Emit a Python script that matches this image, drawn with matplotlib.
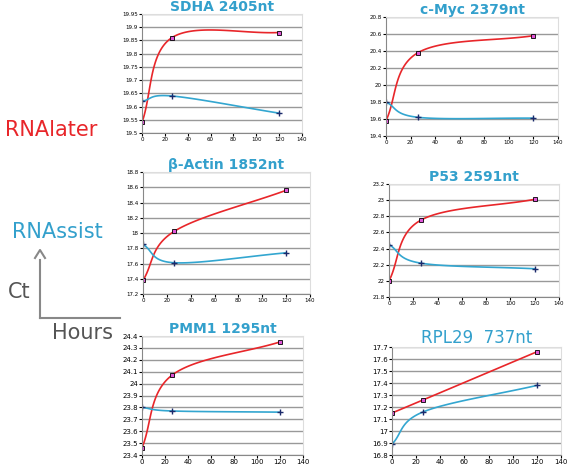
import numpy as np
import matplotlib.pyplot as plt
from matplotlib.ticker import FuncFormatter

hours = [0, 26, 120]

titles = ['SDHA 2405nt', 'c-Myc 2379nt', 'β-Actin 1852nt', 'P53 2591nt', 'PMM1 1295nt', 'RPL29  737nt']
rnalater = [[19.54, 19.86, 19.88], [19.58, 20.38, 20.58], [17.38, 18.02, 18.56],
            [22.0, 22.75, 23.01], [23.46, 24.07, 24.35], [17.15, 17.26, 17.66]]
rnassist = [[19.62, 19.64, 19.575], [19.80, 19.62, 19.61], [17.85, 17.61, 17.74],
            [22.45, 22.22, 22.15], [23.80, 23.77, 23.76], [16.89, 17.16, 17.38]]
ylims = [(19.5, 19.95, 0.05), (19.4, 20.8, 0.2), (17.2, 18.8, 0.2),
         (21.8, 23.2, 0.2), (23.4, 24.4, 0.1), (16.8, 17.7, 0.1)]

# axes boxes in pixels: left, right, top, bottom
boxes = [(142, 302, 14, 133), (386, 558, 17, 136), (143, 310, 172, 294),
         (389, 559, 184, 297), (142, 303, 336, 455), (392, 561, 347, 455)]
W, H = 575, 473


def smooth(x, y, n=60):
    # catmull-rom style curve through the points, like Excel's smoothed line
    x = np.asarray(x, float); y = np.asarray(y, float)
    px = np.concatenate([[2 * x[0] - x[1]], x, [2 * x[-1] - x[-2]]])
    py = np.concatenate([[2 * y[0] - y[1]], y, [2 * y[-1] - y[-2]]])
    xs, ys = [], []
    t = np.linspace(0, 1, n)
    for i in range(1, len(px) - 2):
        for p, out in ((px, xs), (py, ys)):
            p0, p1, p2, p3 = p[i - 1:i + 3]
            m1 = (p2 - p0) / 6; m2 = (p3 - p1) / 6
            out.append((1 - t) ** 3 * p1 + 3 * (1 - t) ** 2 * t * (p1 + m1)
                       + 3 * (1 - t) * t ** 2 * (p2 - m2) + t ** 3 * p2)
    return np.concatenate(xs), np.concatenate(ys)


fmt = FuncFormatter(lambda v, p: '%g' % round(v, 2))

fig = plt.figure(figsize=(W / 100, H / 100), dpi=100)
for i in range(6):
    l, r, t, b = boxes[i]
    ax = fig.add_axes([l / W, 1 - b / H, (r - l) / W, (b - t) / H])
    lo, hi, st = ylims[i]
    ax.set_ylim(lo, hi)
    ax.set_xlim(0, 140)
    ax.set_yticks(np.arange(lo, hi + st / 2, st))
    ax.set_xticks(range(0, 141, 20))
    ax.yaxis.set_major_formatter(fmt)
    ax.yaxis.grid(True, color='#999999', lw=1)
    ax.set_axisbelow(True)
    for s in ['top', 'right']:
        ax.spines[s].set_color('#dddddd')
    for s in ['left', 'bottom']:
        ax.spines[s].set_color('#888888')
    ax.tick_params(labelsize=4, length=2, pad=1)
    if i >= 4:
        ax.tick_params(labelsize=5)
    sx, sy = smooth(hours, rnalater[i])
    ax.plot(sx, sy, color='#e8262a', lw=1.2)
    ax.plot(hours, rnalater[i], 's', ms=3.5, color='#e055d8', mec='black', mew=0.6)
    bx, by = smooth(hours, rnassist[i])
    ax.plot(bx, by, color='#33a6d0', lw=1.2)
    ax.plot(hours, rnassist[i], '+', ms=4, color='#1b2a6b', mew=1)
    ax.set_title(titles[i], color='#33a0cc', fontsize=10 if i < 5 else 12,
                 fontweight='bold' if i < 5 else 'normal', pad=2)

fig.text(5 / W, 1 - 130 / H, 'RNAlater', color='#e8262a', fontsize=15, va='center')
fig.text(12 / W, 1 - 232 / H, 'RNAssist', color='#33a0cc', fontsize=15, va='center')
fig.text(8 / W, 1 - 292 / H, 'Ct', color='#555555', fontsize=15, va='center')
fig.text(52 / W, 1 - 333 / H, 'Hours', color='#555555', fontsize=15, va='center')
fig.add_artist(plt.Line2D([40 / W, 120 / W], [1 - 318 / H, 1 - 318 / H], color='#888888', lw=1.5))
fig.add_artist(plt.Line2D([40 / W, 40 / W], [1 - 318 / H, 1 - 260 / H], color='#888888', lw=1.5))
fig.add_artist(plt.Line2D([35 / W, 40 / W, 45 / W], [1 - 258 / H, 1 - 250 / H, 1 - 258 / H],
                          color='#888888', lw=1.5))
fig.savefig('out.png', dpi=100)
